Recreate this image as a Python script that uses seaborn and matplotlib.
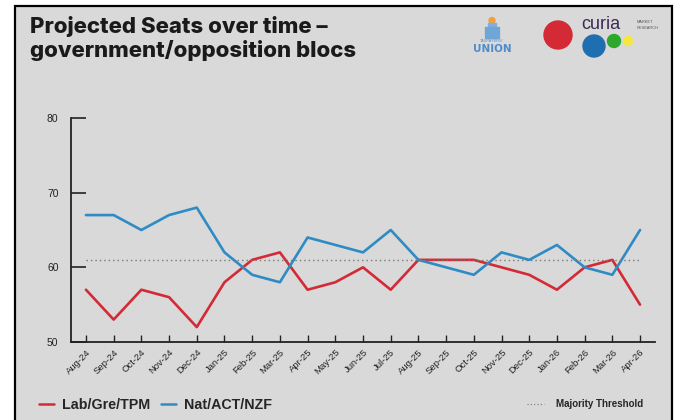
import numpy as np
import pandas as pd
import matplotlib
matplotlib.use('Agg')
import matplotlib.pyplot as plt
import seaborn as sns
from matplotlib.patches import Rectangle, Circle
from matplotlib.lines import Line2D

months = ['Aug-24', 'Sep-24', 'Oct-24', 'Nov-24', 'Dec-24', 'Jan-25', 'Feb-25',
          'Mar-25', 'Apr-25', 'May-25', 'Jun-25', 'Jul-25', 'Aug-25', 'Sep-25',
          'Oct-25', 'Nov-25', 'Dec-25', 'Jan-26', 'Feb-26', 'Mar-26', 'Apr-26']
lab_gre_tpm = [57, 53, 57, 56, 52, 58, 61, 62, 57, 58, 60, 57, 61, 61, 61, 60, 59, 57, 60, 61, 55]
nat_act_nzf = [67, 67, 65, 67, 68, 62, 59, 58, 64, 63, 62, 65, 61, 60, 59, 62, 61, 63, 60, 59, 65]
majority_threshold = 61
y_ticks = [50, 60, 70, 80]

RED = '#d42a35'
BLUE = '#2f8bc4'
BG = '#d9d9d9'

sns.set_style('white')
plt.rcParams['font.family'] = ['Liberation Sans', 'DejaVu Sans']

df = pd.DataFrame({
    'idx': list(range(len(months))) * 2,
    'seats': lab_gre_tpm + nat_act_nzf,
    'bloc': ['Lab/Gre/TPM'] * len(months) + ['Nat/ACT/NZF'] * len(months),
})

fig = plt.figure(figsize=(6.78, 4.2), dpi=100)
fig.patch.set_facecolor('white')

# grey card with black border
W, H = 678, 420
fig.patches.append(Rectangle((15 / W, -0.05), (672 - 15) / W, 1 - 6 / H + 0.05,
                             transform=fig.transFigure, facecolor=BG,
                             edgecolor='black', linewidth=1.6, zorder=-5))

ax = fig.add_axes([71 / W, 1 - 342 / H, (655 - 71) / W, (342 - 118) / H])
ax.set_facecolor('none')

sns.lineplot(data=df, x='idx', y='seats', hue='bloc', palette=[RED, BLUE],
             linewidth=1.9, ax=ax, legend=False)
ax.hlines(majority_threshold, 0, len(months) - 1, colors='#777777',
          linestyles=(0, (1, 2.2)), linewidth=1.0)

ax.set_xlim(-0.54, len(months) - 1 + 0.54)
ax.set_ylim(50, 80)
ax.set_yticks(y_ticks)
ax.set_xticks(range(len(months)))
ax.set_xticklabels(months, rotation=45, ha='right', rotation_mode='anchor')
ax.tick_params(axis='y', left=True, direction='in', length=11, width=1.2,
               labelsize=7.5, pad=9, colors='#222222')
ax.tick_params(axis='x', bottom=True, direction='in', length=5, width=1.0,
               labelsize=6.8, pad=4, colors='#222222')
ax.set_xlabel('')
ax.set_ylabel('')
for s in ['top', 'right']:
    ax.spines[s].set_visible(False)
for s in ['left', 'bottom']:
    ax.spines[s].set_color('#222222')
    ax.spines[s].set_linewidth(1.3)

# title
fig.text(30 / W, 1 - 16 / H, 'Projected Seats over time \u2013\ngovernment/opposition blocs',
         ha='left', va='top', fontsize=16, fontweight='heavy', color='#1a1a1a',
         family=['Inter', 'DejaVu Sans'], linespacing=1.2)

# logos
lax = fig.add_axes([460 / W, 1 - 70 / H, 210 / W, 60 / H])
lax.set_xlim(460, 670)
lax.set_ylim(70, 10)
lax.axis('off')
lax.add_patch(Circle((492, 20.5), 3, color='#f0a040'))
lax.add_patch(Rectangle((488, 23), 8, 3, color='#7fb0dc'))
for yy in [27, 30, 33, 36]:
    lax.add_patch(Rectangle((485, yy), 14, 1.8, color='#6fa6d6'))
lax.text(492, 40.5, "TAXPAYERS'", ha='center', va='center', fontsize=2.8, color='#4f8cc9')
lax.text(492, 49, 'UNION', ha='center', va='center', fontsize=7.5, color='#4f8cc9',
         family=['Liberation Sans Narrow', 'DejaVu Sans'], fontweight='bold')
lax.add_patch(Circle((558, 35), 14, color='#d42a35'))
lax.add_patch(Circle((594, 46), 11, color='#1f6fb0'))
lax.add_patch(Circle((614, 41), 6.5, color='#2ca82c'))
lax.add_patch(Circle((628, 41), 4.5, color='#f5e642'))
lax.text(581, 25, 'curia', ha='left', va='center', fontsize=13, color='#3d2a55')
lax.text(637, 22, 'MARKET', ha='left', va='center', fontsize=2.8, color='#555555')
lax.text(637, 28, 'RESEARCH', ha='left', va='center', fontsize=2.8, color='#555555')

# legends
handles = [Line2D([], [], color=RED, lw=1.8), Line2D([], [], color=BLUE, lw=1.8)]
fig.legend(handles, ['Lab/Gre/TPM', 'Nat/ACT/NZF'], loc='center left',
           bbox_to_anchor=(26 / W, 1 - 405 / H), ncol=2, frameon=False,
           handlelength=1.05, handletextpad=0.55, columnspacing=0.8,
           prop={'size': 10.3, 'weight': 'semibold'})
fig.legend([Line2D([], [], color='#777777', lw=0.8, ls=(0, (1, 2)))],
           ['Majority Threshold'], loc='center right',
           bbox_to_anchor=(652 / W, 1 - 404 / H), frameon=False,
           prop={'size': 7, 'weight': 'bold'},
           handlelength=1.8, handletextpad=1.2)

fig.savefig('out.png', dpi=100)
